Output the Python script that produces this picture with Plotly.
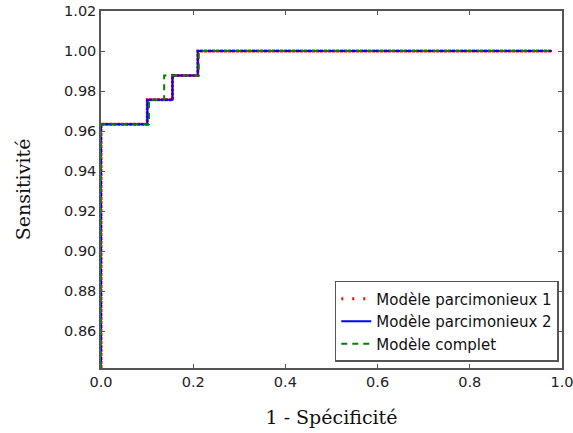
import plotly.graph_objects as go

# Data (ROC step curves)
fpr_m1 = [0.0, 0.0, 0.1004, 0.1004, 0.155, 0.155, 0.21, 0.21, 0.978]
tpr_m1 = [0.8416, 0.9634, 0.9634, 0.9756, 0.9756, 0.9878, 0.9878, 1.0, 1.0]

fpr_m2 = [0.0, 0.0, 0.1004, 0.1004, 0.155, 0.155, 0.21, 0.21, 0.978]
tpr_m2 = [0.8416, 0.9634, 0.9634, 0.9756, 0.9756, 0.9878, 0.9878, 1.0, 1.0]

fpr_full = [0.0, 0.0, 0.104, 0.104, 0.137, 0.137, 0.212, 0.212, 0.978]
tpr_full = [0.8416, 0.9634, 0.9634, 0.9756, 0.9756, 0.9878, 0.9878, 1.0, 1.0]

names = ["Modèle parcimonieux 1", "Modèle parcimonieux 2", "Modèle complet"]
y_ticks = [0.86, 0.88, 0.90, 0.92, 0.94, 0.96, 0.98, 1.00, 1.02]
x_ticks = [0.0, 0.2, 0.4, 0.6, 0.8, 1.0]
x_tick_text = ["0.0", "0.2", "0.4", "0.6", "0.8", "1.0"]

fig = go.Figure()
# red curve (drawn nearly continuous) + legend proxy with dots
fig.add_trace(go.Scatter(x=fpr_m1, y=tpr_m1, mode="lines", showlegend=False,
                         line=dict(color="red", width=3, dash="3px,1px")))
fig.add_trace(go.Scatter(x=[None], y=[None], mode="lines", name=names[0],
                         legendgroup="a",
                         line=dict(color="red", width=3, dash="2px,9px")))
fig.add_trace(go.Scatter(x=fpr_m2, y=tpr_m2, mode="lines", name=names[1],
                         legendgroup="b",
                         line=dict(color="blue", width=2)))
fig.add_trace(go.Scatter(x=fpr_full, y=tpr_full, mode="lines", name=names[2],
                         legendgroup="c",
                         line=dict(color="green", width=2, dash="6px,5px")))

axis_common = dict(showgrid=False, zeroline=False, showline=True, linecolor="#555",
                   linewidth=1.5, mirror="ticks", ticks="inside", ticklen=4,
                   tickcolor="#555", automargin=False, ticklabeloverflow="allow",
                   tickfont=dict(family="DejaVu Sans", size=14.5, color="#222"))

title_font = dict(family="DejaVu Serif", size=19, color="#111")

fig.update_xaxes(range=[0, 1.0], tickvals=x_ticks, ticktext=x_tick_text,
                 title=dict(text="1 - Spécificité", standoff=22, font=title_font),
                 **axis_common)
fig.update_yaxes(range=[0.8416, 1.02], tickvals=y_ticks,
                 ticktext=[f"{v:.2f}" for v in y_ticks],
                 title=dict(text="Sensitivité", standoff=28, font=title_font),
                 **axis_common)

fig.update_layout(
    width=573, height=433,
    margin=dict(l=101, r=11, t=11, b=65),
    plot_bgcolor="white", paper_bgcolor="white",
    legend=dict(x=0.993, y=0.017, xanchor="right", yanchor="bottom",
                bgcolor="white", bordercolor="#555", borderwidth=1.5,
                traceorder="grouped", tracegroupgap=0, entrywidth=190,
                font=dict(family="DejaVu Sans", size=15, color="#111")),
)

fig.write_html("out.html", config={"displayModeBar": False},
               post_script="document.body.style.margin='0';")
